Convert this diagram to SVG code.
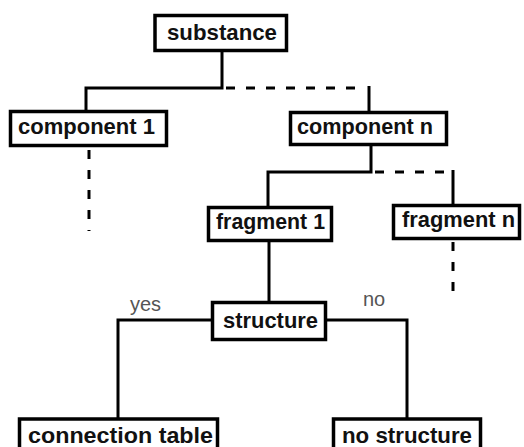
<svg xmlns="http://www.w3.org/2000/svg" width="524" height="447" viewBox="0 0 524 447">
<style>
.box{fill:#fff;stroke:#000;stroke-width:3.5}
.lbl{font-family:"Liberation Sans",Arial,sans-serif;font-weight:bold;font-size:22px;fill:#111}
.edge{fill:none;stroke:#000;stroke-width:3}
.dash{fill:none;stroke:#000;stroke-width:3;stroke-dasharray:9 11}
.ann{font-family:"Liberation Sans",Arial,sans-serif;font-size:20px;fill:#555}
</style>
<rect width="524" height="447" fill="#fff"/>
<g id="connectors">
<path class="edge" d="M222 52V88H86V110"/>
<path class="dash" d="M226 88H366"/>
<path class="edge" d="M369 86V112"/>
<path class="dash" d="M89 150V231"/>
<path class="edge" d="M371 145V172H268V207"/>
<path class="dash" d="M375 172H450"/>
<path class="edge" d="M453 170V205"/>
<path class="edge" d="M269 242V301"/>
<path class="dash" d="M453 242V301"/>
<path class="edge" d="M212 320H118V418"/>
<path class="edge" d="M327 320H407V418"/>
<text class="ann" x="130" y="311">yes</text>
<text class="ann" x="363" y="306">no</text>
</g>
<g id="substance"><rect class="box" x="155" y="15.5" width="131.5" height="35"/><text class="lbl" x="167" y="40" textLength="110" lengthAdjust="spacingAndGlyphs">substance</text></g>
<g id="component1"><rect class="box" x="10.5" y="111.5" width="156" height="34"/><text class="lbl" x="18" y="134" textLength="137" lengthAdjust="spacingAndGlyphs">component 1</text></g>
<g id="componentn"><rect class="box" x="290.5" y="112.5" width="156" height="32"/><text class="lbl" x="297" y="134" textLength="136" lengthAdjust="spacingAndGlyphs">component n</text></g>
<g id="fragment1"><rect class="box" x="208.5" y="207.5" width="123" height="33"/><text class="lbl" x="216" y="229" textLength="109" lengthAdjust="spacingAndGlyphs">fragment 1</text></g>
<g id="fragmentn"><rect class="box" x="393.5" y="205.5" width="126" height="33"/><text class="lbl" x="402" y="227" textLength="113" lengthAdjust="spacingAndGlyphs">fragment n</text></g>
<g id="structure"><rect class="box" x="212.5" y="302.5" width="113" height="37"/><text class="lbl" x="223" y="328" textLength="95" lengthAdjust="spacingAndGlyphs">structure</text></g>
<g id="connectiontable"><rect class="box" x="19.5" y="419" width="198" height="40"/><text class="lbl" x="28" y="443" textLength="185" lengthAdjust="spacingAndGlyphs">connection table</text></g>
<g id="nostructure"><rect class="box" x="333.5" y="419" width="147" height="40"/><text class="lbl" x="342" y="443" textLength="130" lengthAdjust="spacingAndGlyphs">no structure</text></g>
</svg>
